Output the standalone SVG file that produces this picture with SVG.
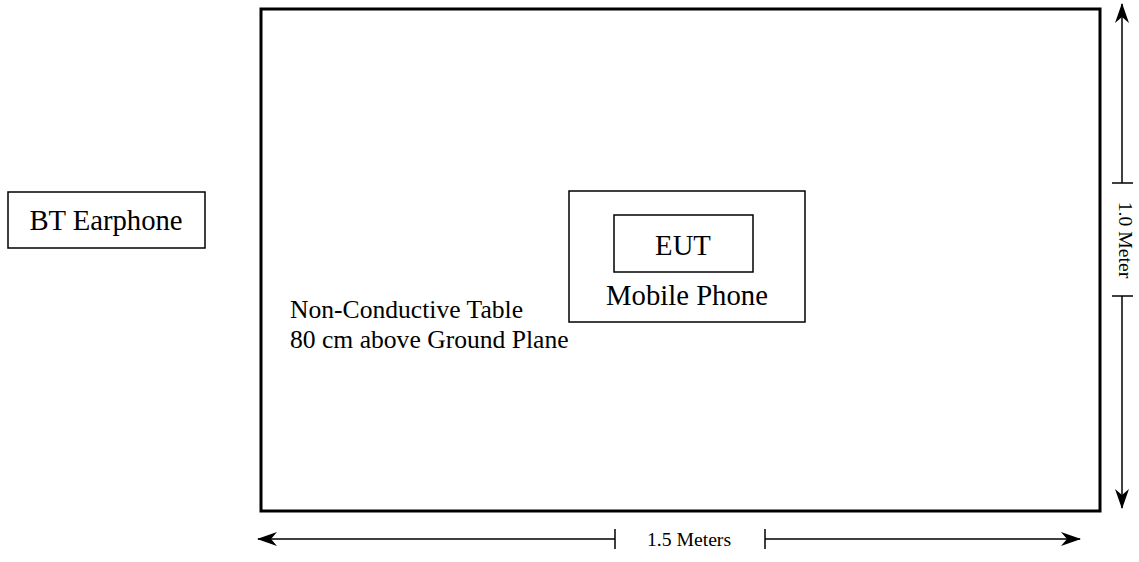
<svg xmlns="http://www.w3.org/2000/svg" width="1139" height="562" viewBox="0 0 1139 562">
<defs>
<style>
text{font-family:"Liberation Serif","Times New Roman",serif;fill:#000}
.box{fill:#fff;stroke:#000;stroke-width:1.5}
.ln{stroke:#000;stroke-width:1.5;fill:none}
.big{font-size:28.7px}
.mid{font-size:25.6px}
.sm{font-size:19.7px}
</style>
<marker id="ah" viewBox="0 0 20 14" refX="19" refY="7" markerWidth="20" markerHeight="14" markerUnits="userSpaceOnUse" orient="auto-start-reverse">
<path d="M0,0 L20,7 L0,14 L6,7 Z" fill="#000"/>
</marker>
</defs>
<rect width="1139" height="562" fill="#fff"/>
<g id="table">
<rect x="261" y="9" width="839" height="502" fill="#fff" stroke="#000" stroke-width="3"/>
<text class="mid" x="290" y="318">Non-Conductive Table</text>
<text class="mid" x="290" y="348">80 cm above Ground Plane</text>
</g>
<g id="mobile">
<rect class="box" x="569" y="191" width="236" height="131"/>
<text class="big" x="687" y="305" text-anchor="middle">Mobile Phone</text>
</g>
<g id="eut">
<rect class="box" x="614" y="215" width="139" height="57"/>
<text class="big" x="683" y="255" text-anchor="middle">EUT</text>
</g>
<g id="earphone">
<rect class="box" x="8" y="192" width="197" height="56"/>
<text class="big" x="106" y="230" text-anchor="middle">BT Earphone</text>
</g>
<g id="connectors">
<line class="ln" x1="1122" y1="183" x2="1122" y2="4" marker-end="url(#ah)"/>
<line class="ln" x1="1112" y1="183" x2="1133" y2="183"/>
<line class="ln" x1="1122" y1="296" x2="1122" y2="508" marker-end="url(#ah)"/>
<line class="ln" x1="1112" y1="296" x2="1133" y2="296"/>
<line class="ln" x1="615" y1="539" x2="258" y2="539" marker-end="url(#ah)"/>
<line class="ln" x1="615" y1="529" x2="615" y2="549"/>
<line class="ln" x1="765" y1="539" x2="1080" y2="539" marker-end="url(#ah)"/>
<line class="ln" x1="765" y1="529" x2="765" y2="549"/>
</g>
<text class="sm" x="1119" y="240" text-anchor="middle" transform="rotate(90 1119 240)">1.0 Meter</text>
<text class="sm" x="689" y="546" text-anchor="middle">1.5 Meters</text>
</svg>
